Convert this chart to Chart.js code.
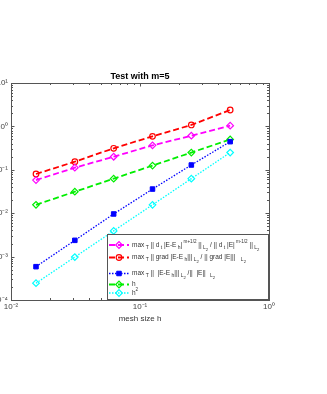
<!DOCTYPE html>
<html>
<head>
<meta charset="utf-8">
<script src="https://cdn.jsdelivr.net/npm/chart.js@4/dist/chart.umd.min.js"></script>
<style>
  html, body { margin: 0; padding: 0; background: #fff; overflow: hidden; }
  #wrap { position: absolute; left: -30px; top: 0; width: 357px; height: 394px; }
</style>
</head>
<body>
<div id="wrap"><canvas id="chart" width="357" height="394"></canvas></div>
<script>
// mesh sizes and errors
const meshH = [0.015625, 0.03125, 0.0625, 0.125, 0.25, 0.5];
const dtErr = [0.058, 0.112, 0.2, 0.366, 0.61, 1.04];
const gradErr = [0.08, 0.154, 0.313, 0.59, 1.08, 2.39];
const l2Err = [0.000586, 0.00237, 0.0096, 0.036, 0.129, 0.445];
const hRef = [0.015625, 0.03125, 0.0625, 0.125, 0.25, 0.5];
const h2Ref = [0.000244, 0.000977, 0.00391, 0.0156, 0.0625, 0.25];

const xTicks = [0.01, 0.1, 1];
const yTicks = [1e-4, 1e-3, 1e-2, 1e-1, 1, 10];

const FONT = "'Liberation Sans', Arial, sans-serif";
const sup = { "-": "\u207B", "0": "\u2070", "1": "\u00B9", "2": "\u00B2", "3": "\u00B3", "4": "\u2074" };
function powLabel(v) {
  const e = Math.round(Math.log10(v));
  return "10" + String(e).split("").map(c => sup[c]).join("");
}

function pts(ys) {
  return meshH.map((x, i) => ({ x: x, y: ys[i] }));
}

// legend texts: [text, mode] mode n / sub / sup / sub2
const legendTexts = [
  [["max", "n"], [" T", "sub"], [" || d", "n"], [" t", "sub"], [" |E-E", "n"], [" h", "sub"], ["|", "n"], [" m+1/2", "sup"],
   [" ||", "n"], [" L", "sub"], ["2", "sub2"], [" / || d", "n"], [" t", "sub"], [" |E|", "n"], [" m-1/2", "sup"], [" ||", "n"], [" L", "sub"], ["2", "sub2"]],
  [["max", "n"], [" T", "sub"], [" || grad |E-E", "n"], [" h", "sub"], ["|||", "n"], [" L", "sub"], ["2", "sub2"], [" / || grad |E|||", "n"], ["    L", "sub"], ["2", "sub2"]],
  [["max", "n"], [" T", "sub"], [" ||  |E-E", "n"], [" h", "sub"], ["|||", "n"], [" L", "sub"], ["2", "sub2"], [" /||  |E||", "n"], ["   L", "sub"], ["2", "sub2"]],
  [["h", "n"]],
  [["h", "n"], ["2", "sup"]]
];

const datasets = [
  { data: pts(dtErr), borderColor: "#ff00ff", backgroundColor: "rgba(0,0,0,0)", borderDash: [6, 3], borderWidth: 1.8,
    pointStyle: "rectRot", pointRadius: 3.3, pointBorderWidth: 1.2 },
  { data: pts(gradErr), borderColor: "#ff0000", backgroundColor: "rgba(0,0,0,0)", borderDash: [6, 3], borderWidth: 1.8,
    pointStyle: "circle", pointRadius: 2.8, pointBorderWidth: 1.2 },
  { data: pts(l2Err), borderColor: "#0000ff", backgroundColor: "#0000ff", borderDash: [1.5, 1.5], borderWidth: 1.3,
    pointStyle: "rect", pointRadius: 3.2, pointBorderWidth: 1 },
  { data: pts(hRef), borderColor: "#00ee00", backgroundColor: "rgba(0,0,0,0)", borderDash: [6, 3], borderWidth: 1.8,
    pointStyle: "rectRot", pointRadius: 3.3, pointBorderWidth: 1.2 },
  { data: pts(h2Ref), borderColor: "#00ffff", backgroundColor: "rgba(0,0,0,0)", borderDash: [1.5, 1.5], borderWidth: 1.3,
    pointStyle: "rectRot", pointRadius: 3.3, pointBorderWidth: 1.2 }
];
datasets.forEach(d => { d.showLine = true; d.pointBackgroundColor = d.backgroundColor; d.pointBorderColor = d.borderColor; });

function drawRich(ctx, x, y, parts) {
  ctx.textBaseline = "middle";
  ctx.textAlign = "left";
  parts.forEach(([t, m]) => {
    let size = 6.5, dy = 0;
    if (m === "sub") { size = 5; dy = 2.5; }
    if (m === "sup") { size = 4.6; dy = -3.3; }
    if (m === "sub2") { size = 4.2; dy = 4.8; }
    ctx.font = size + "px " + FONT;
    ctx.fillText(t, x, y + dy);
    x += ctx.measureText(t).width;
  });
}

const matlabBox = {
  id: "matlabBox",
  afterDatasetsDraw(chart) {
    const ctx = chart.ctx;
    const a = chart.chartArea;
    const sx = chart.scales.x, sy = chart.scales.y;
    ctx.save();
    // box
    ctx.strokeStyle = "#555";
    ctx.lineWidth = 1;
    ctx.setLineDash([]);
    ctx.strokeRect(a.left + 0.5, a.top + 0.5, a.right - a.left, a.bottom - a.top);
    // inward ticks
    ctx.beginPath();
    for (let e = -4; e <= 1; e++) {
      for (let k = 1; k <= 9; k++) {
        const v = k * Math.pow(10, e);
        if (v < sy.min * 0.999 || v > sy.max * 1.001) continue;
        const py = Math.round(sy.getPixelForValue(v)) + 0.5;
        const len = k === 1 ? 3.5 : 2;
        ctx.moveTo(a.left, py); ctx.lineTo(a.left + len, py);
        ctx.moveTo(a.right, py); ctx.lineTo(a.right - len, py);
      }
    }
    for (let e = -2; e <= 0; e++) {
      for (let k = 1; k <= 9; k++) {
        const v = k * Math.pow(10, e);
        if (v < sx.min * 0.999 || v > sx.max * 1.001) continue;
        const px = Math.round(sx.getPixelForValue(v)) + 0.5;
        const len = k === 1 ? 3.5 : 2;
        ctx.moveTo(px, a.bottom); ctx.lineTo(px, a.bottom - len);
        ctx.moveTo(px, a.top); ctx.lineTo(px, a.top + len);
      }
    }
    ctx.stroke();

    // title
    ctx.fillStyle = "#000";
    ctx.font = "bold 9px " + FONT;
    ctx.textAlign = "center";
    ctx.textBaseline = "middle";
    ctx.fillText("Test with m=5", (a.left + a.right) / 2, a.top - 6);

    // legend
    const lx = a.left + 96, lt = a.top + 151, lr = a.right, lb = a.bottom - 1;
    ctx.fillStyle = "#fff";
    ctx.fillRect(lx, lt, lr - lx, lb - lt);
    ctx.strokeStyle = "#555";
    ctx.strokeRect(lx + 0.5, lt + 0.5, lr - lx - 1, lb - lt);
    const rows = [11, 23.5, 39.5, 50.5, 59];
    chart.data.datasets.forEach((d, i) => {
      const y = lt + rows[i];
      ctx.strokeStyle = d.borderColor;
      ctx.lineWidth = d.borderWidth;
      ctx.setLineDash(d.borderDash);
      ctx.beginPath();
      ctx.moveTo(lx + 2, y); ctx.lineTo(lx + 22, y);
      ctx.stroke();
      ctx.setLineDash([]);
      ctx.lineWidth = d.pointBorderWidth;
      ctx.fillStyle = d.pointBackgroundColor;
      Chart.helpers.drawPoint(ctx, { pointStyle: d.pointStyle, radius: d.pointRadius, borderWidth: d.pointBorderWidth }, lx + 12, y);
      ctx.fillStyle = "#333";
      drawRich(ctx, lx + 25, y, legendTexts[i]);
    });
    ctx.restore();
  }
};

new Chart(document.getElementById("chart"), {
  type: "scatter",
  data: { datasets: datasets },
  options: {
    responsive: false,
    animation: false,
    layout: { padding: { top: 83, right: 58, bottom: 68, left: 0 } },
    plugins: { legend: { display: false }, tooltip: { enabled: false } },
    scales: {
      x: {
        type: "logarithmic",
        min: 0.01,
        max: 1,
        afterBuildTicks: s => { s.ticks = xTicks.map(v => ({ value: v })); },
        afterFit: s => { s.height = 26; },
        grid: { display: false, drawTicks: false },
        border: { display: false },
        ticks: { callback: v => powLabel(v), color: "#444", font: { family: FONT, size: 8 }, padding: 2, maxRotation: 0, autoSkip: false },
        title: { display: true, text: "mesh size h", color: "#333", font: { family: FONT, size: 8 }, padding: 2 }
      },
      y: {
        type: "logarithmic",
        min: 1e-4,
        max: 10,
        afterBuildTicks: s => { s.ticks = yTicks.map(v => ({ value: v })); },
        afterFit: s => { s.width = 41; },
        grid: { display: false, drawTicks: false },
        border: { display: false },
        ticks: { callback: v => powLabel(v), color: "#444", font: { family: FONT, size: 8 }, padding: 3, autoSkip: false }
      }
    }
  },
  plugins: [matlabBox]
});
</script>
</body>
</html>
